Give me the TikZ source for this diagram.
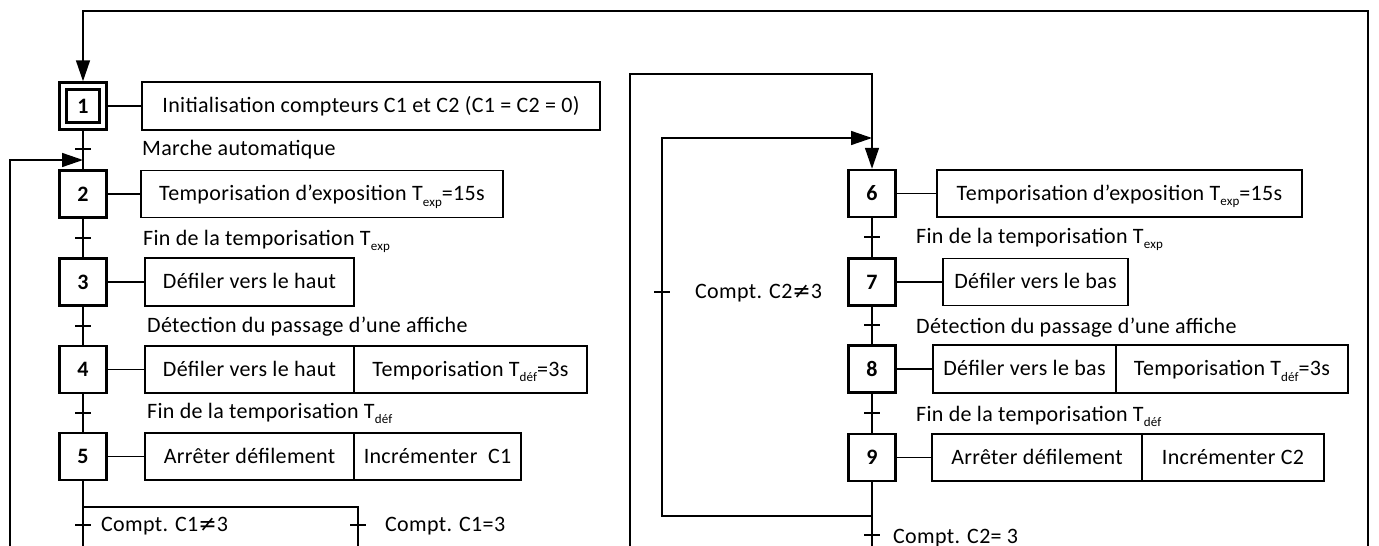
\documentclass[tikz,border=0pt]{standalone}
\usepackage{fontspec}
\setmainfont{Carlito}[LetterSpace=1.5]
\newfontfamily\symfnt{DejaVu Sans}
\usetikzlibrary{arrows.meta}
\newcommand\mysub[1]{\raisebox{-0.25em}[0pt][0pt]{\fontsize{13}{13}\selectfont #1}}
\begin{document}
\begin{tikzpicture}[x=1pt,y=-1pt,font=\fontsize{22}{26}\selectfont,
  stepbox/.style={draw,line width=2.5pt,minimum width=47pt,minimum height=47pt,inner sep=0pt,font=\fontsize{22}{26}\selectfont\bfseries},
  actbox/.style={draw,line width=1.5pt,inner sep=0pt,text height=16pt,text depth=3pt},
  lbl/.style={anchor=base west,inner sep=0pt},
  link/.style={line width=1.5pt},
  flow/.style={line width=1.5pt},
  arr/.style={-{Triangle[length=21pt,width=14pt]}},
  tick/.style={line width=1.5pt}]
\useasboundingbox (0,0) rectangle (1379,546);
% steps
\node[stepbox] (s1) at (83,106) {};
\node[stepbox,minimum width=33pt,minimum height=33pt,line width=2.3pt] (s1i) at (s1) {1};
\node[stepbox] (s2) at (83,194) {2};
\node[stepbox] (s3) at (83,282) {3};
\node[stepbox] (s4) at (83,369.5) {4};
\node[stepbox] (s5) at (83,456.5) {5};
\node[stepbox] (s6) at (872,193.5) {6};
\node[stepbox] (s7) at (872,282) {7};
\node[stepbox] (s8) at (872,369) {8};
\node[stepbox] (s9) at (872,457.5) {9};
% actions
\node[actbox,minimum width=458pt,minimum height=48pt] (a1) at (371,106) {Initialisation compteurs C1 et C2 (C1 = C2 = 0)};
\node[actbox,minimum width=362pt,minimum height=47pt] (a2) at (322,194) {Temporisation d’exposition T\mysub{exp}=15s};
\node[actbox,minimum width=209pt,minimum height=48pt] (a3) at (249.5,282) {Défiler vers le haut};
\node[actbox,minimum width=209pt,minimum height=47pt] (a4a) at (249.5,369.5) {Défiler vers le haut};
\node[actbox,minimum width=233pt,minimum height=47pt] (a4b) at (470.5,369.5) {Temporisation T\mysub{déf}=3s};
\node[actbox,minimum width=209pt,minimum height=47pt] (a5a) at (249.5,456.5) {Arrêter défilement};
\node[actbox,minimum width=167pt,minimum height=47pt] (a5b) at (437.5,456.5) {Incrémenter\ \ C1};
\node[actbox,minimum width=365pt,minimum height=47pt] (a6) at (1119.5,193.5) {Temporisation d’exposition T\mysub{exp}=15s};
\node[actbox,minimum width=185pt,minimum height=47pt] (a7) at (1035.5,282) {Défiler vers le bas};
\node[actbox,minimum width=183pt,minimum height=48pt] (a8a) at (1024.5,369) {Défiler vers le bas};
\node[actbox,minimum width=232pt,minimum height=48pt] (a8b) at (1232,369) {Temporisation T\mysub{déf}=3s};
\node[actbox,minimum width=210pt,minimum height=47pt] (a9a) at (1037,457.5) {Arrêter défilement};
\node[actbox,minimum width=182pt,minimum height=47pt] (a9b) at (1233,457.5) {Incrémenter C2};
% links
\draw[link] (s1.east) -- (a1.west);
\draw[link] (s2.east) -- (a2.west);
\draw[link] (s3.east) -- (a3.west);
\draw[link] (s4.east) -- (a4a.west);
\draw[link] (s5.east) -- (a5a.west);
\draw[link] (s6.east) -- (a6.west);
\draw[link] (s7.east) -- (a7.west);
\draw[link] (s8.east) -- (a8a.west);
\draw[link] (s9.east) -- (a9a.west);
% coordinates
\coordinate (j2) at (83,160);
\coordinate (lt) at (10,160);
\coordinate (lb) at (10,546);
\coordinate (rb) at (1368,546);
\coordinate (rt) at (1368,11);
\coordinate (tl) at (83,11);
\coordinate (d5) at (83,507);
\coordinate (dR) at (358,507);
\coordinate (bL) at (83,546);
\coordinate (bR) at (358,546);
\coordinate (ob) at (630,546);
\coordinate (ot) at (630,74);
\coordinate (o6) at (872,74);
\coordinate (j9) at (872,516);
\coordinate (ib) at (662,516);
\coordinate (it) at (662,138);
\coordinate (j6) at (872,138);
\coordinate (b9) at (872,546);
% flow lines
\draw[flow] (s1.south) -- (s2.north);
\draw[flow] (s2.south) -- (s3.north);
\draw[flow] (s3.south) -- (s4.north);
\draw[flow] (s4.south) -- (s5.north);
\draw[flow] (s5.south) -- (bL);
\draw[flow] (d5) -- (dR) -- (bR);
\draw[flow,arr] (lb) -- (lt) -- (j2);
\draw[flow,arr] (rb) -- (rt) -- (tl) -- (s1.north);
\draw[flow,arr] (ob) -- (ot) -- (o6) -- (s6.north);
\draw[flow,arr] (j9) -- (ib) -- (it) -- (j6);
\draw[flow] (s6.south) -- (s7.north);
\draw[flow] (s7.south) -- (s8.north);
\draw[flow] (s8.south) -- (s9.north);
\draw[flow] (s9.south) -- (b9);
% ticks
\coordinate (t1) at (83,149);
\coordinate (t2) at (83,238);
\coordinate (t3) at (83,326);
\coordinate (t4) at (83,413);
\coordinate (tb1) at (83,525);
\coordinate (tb2) at (358,525);
\coordinate (t6) at (872,237);
\coordinate (t7) at (872,325);
\coordinate (t8) at (872,413);
\coordinate (t9) at (872,535);
\coordinate (tl2) at (662,292);
\foreach \t in {t1,t2,t3,t4,tb1,tb2,t6,t7,t8,t9,tl2}
  \draw[tick] ([xshift=-8pt]\t) -- ([xshift=8pt]\t);
% labels
\node[lbl] (l1) at (142,155) {Marche automatique};
\node[lbl] (l2) at (143,245) {Fin de la temporisation T\mysub{exp}};
\node[lbl] (l3) at (147,332) {Détection du passage d’une affiche};
\node[lbl] (l4) at (147,418) {Fin de la temporisation T\mysub{déf}};
\node[lbl] (l5) at (101,531) {Compt. C1{\symfnt ≠}3};
\node[lbl] (l6) at (385,531) {Compt. C1=3};
\node[lbl] (l7) at (916,243) {Fin de la temporisation T\mysub{exp}};
\node[lbl] (l8) at (916,333) {Détection du passage d’une affiche};
\node[lbl] (l9) at (916,421) {Fin de la temporisation T\mysub{déf}};
\node[lbl] (l10) at (695,298) {Compt. C2{\symfnt ≠}3};
\node[lbl] (l11) at (893,543) {Compt. C2= 3};
\end{tikzpicture}
\end{document}
